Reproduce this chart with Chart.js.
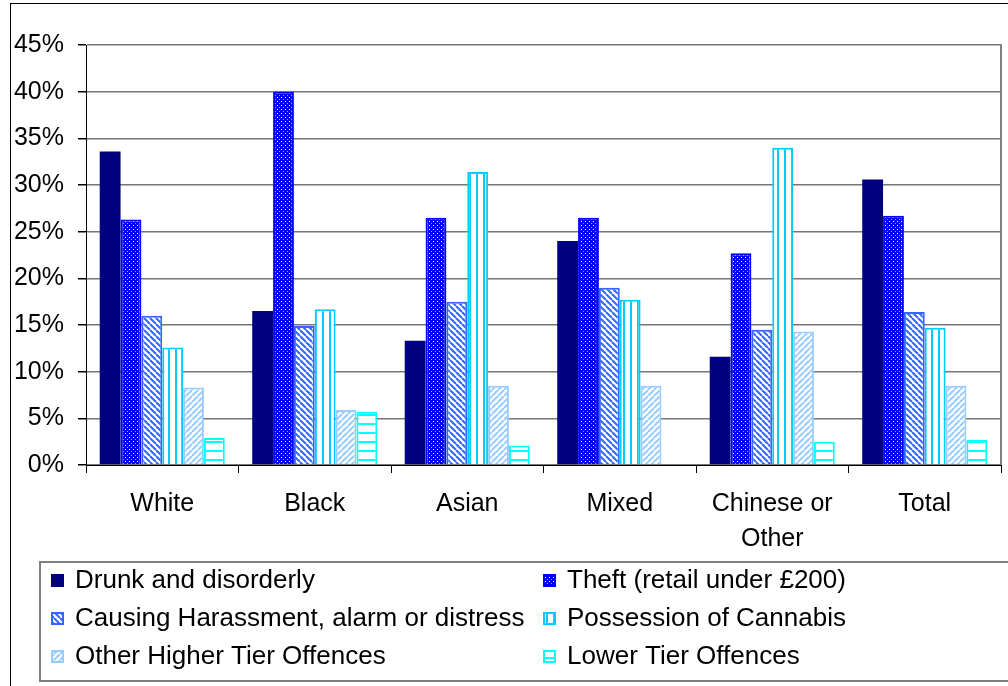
<!DOCTYPE html>
<html>
<head>
<meta charset="utf-8">
<script src="https://cdn.jsdelivr.net/npm/chart.js@4.4.0/dist/chart.umd.min.js"></script>
<style>
  body { margin: 0; background: #fff; }
  canvas { display: block; }
</style>
</head>
<body>
<canvas id="myChart" width="1008" height="686"></canvas>
<script>
// categories along the x axis
const categories = ['White', 'Black', 'Asian', 'Mixed', ['Chinese or', 'Other'], 'Total'];

// series values, percent
const drunk = [33.6, 16.5, 13.3, 24.0, 11.6, 30.6];
const theft = [26.3, 40.0, 26.5, 26.5, 22.7, 26.7];
const harassment = [16.0, 14.9, 17.5, 19.0, 14.5, 16.4];
const cannabis = [12.6, 16.7, 31.4, 17.7, 34.0, 14.7];
const otherHigher = [8.3, 5.9, 8.5, 8.5, 14.3, 8.5];
const lowerTier = [2.9, 5.7, 2.1, null, 2.5, 2.7];

const seriesNames = [
  'Drunk and disorderly',
  'Theft (retail under £200)',
  'Causing Harassment, alarm or distress',
  'Possession of Cannabis',
  'Other Higher Tier Offences',
  'Lower Tier Offences'
];

// y axis ticks
const yMin = 0, yMax = 45, yStep = 5;

const FONT = '"Liberation Sans", Arial, sans-serif';

// small tile patterns like the old excel fills
function makePattern(size, draw) {
  const c = document.createElement('canvas');
  c.width = size; c.height = size;
  const g = c.getContext('2d');
  draw(g, size);
  return g.createPattern(c, 'repeat');
}

const dotsBlue = makePattern(4, function(g, s) {
  g.fillStyle = '#0000FF'; g.fillRect(0, 0, s, s);
  g.fillStyle = '#ffffff';
  g.fillRect(1, 1, 1, 1);
  g.fillStyle = '#9999ff';
  g.fillRect(3, 3, 1, 1);
});

function diagonal(color, down) {
  return makePattern(6, function(g, s) {
    g.fillStyle = '#ffffff'; g.fillRect(0, 0, s, s);
    g.strokeStyle = color; g.lineWidth = 2;
    for (let k = -1; k <= 1; k++) {
      g.beginPath();
      if (down) { g.moveTo(k * s, 0); g.lineTo(k * s + s, s); }
      else { g.moveTo(k * s, s); g.lineTo(k * s + s, 0); }
      g.stroke();
    }
  });
}

const vertLines = makePattern(7, function(g, s) {
  g.fillStyle = '#ffffff'; g.fillRect(0, 0, s, s);
  g.fillStyle = '#00CCFF'; g.fillRect(0, 0, 2, s);
});

const horizLines = makePattern(9, function(g, s) {
  g.fillStyle = '#ffffff'; g.fillRect(0, 0, s, s);
  g.fillStyle = '#00FFFF'; g.fillRect(0, 0, s, 2);
});

const fills = ['#000080', dotsBlue, diagonal('#3366FF', true), vertLines, diagonal('#99CCFF', false), horizLines];
const borders = ['#000080', '#0000FF', '#3366FF', '#00CCFF', '#99CCFF', '#00FFFF'];
const values = [drunk, theft, harassment, cannabis, otherHigher, lowerTier];

// frame round the chart and the boxed legend at the bottom
const frameAndLegend = {
  id: 'frameAndLegend',
  afterDraw: function(chart) {
    const ctx = chart.ctx;
    ctx.save();
    ctx.strokeStyle = '#000';
    ctx.lineWidth = 1;
    ctx.strokeRect(10.5, 3.5, 1100, 800);

    // plot area right edge
    const a = chart.chartArea;
    ctx.strokeStyle = '#808080';
    ctx.lineWidth = 2;
    ctx.beginPath();
    ctx.moveTo(a.right, a.top - 1);
    ctx.lineTo(a.right, a.bottom);
    ctx.stroke();

    // legend box
    ctx.strokeStyle = '#808080';
    ctx.lineWidth = 2;
    ctx.strokeRect(40, 562, 1100, 119);

    ctx.font = '26px ' + FONT;
    ctx.textBaseline = 'middle';
    ctx.fillStyle = '#000';
    const colX = [51, 543];
    const rowY = [580, 618, 656];
    chart.data.datasets.forEach(function(ds, i) {
      const x = colX[i % 2], y = rowY[Math.floor(i / 2)];
      ctx.fillStyle = ds.backgroundColor;
      ctx.fillRect(x, y - 6, 13, 13);
      if (i > 0) {
        ctx.strokeStyle = ds.borderColor;
        ctx.lineWidth = 2;
        ctx.strokeRect(x + 1, y - 5, 11, 11);
      }
      ctx.fillStyle = '#000';
      ctx.fillText(ds.label, x + 24, y + 1);
    });
    ctx.restore();
  }
};

const ctx = document.getElementById('myChart').getContext('2d');
const myChart = new Chart(ctx, {
  type: 'bar',
  data: {
    labels: categories,
    datasets: values.map(function(v, i) {
      return {
        label: seriesNames[i],
        data: v,
        backgroundColor: fills[i],
        borderColor: borders[i],
        borderWidth: i === 0 ? 0 : 2,
        borderSkipped: 'bottom',
        categoryPercentage: 0.82,
        barPercentage: 1.0
      };
    })
  },
  options: {
    responsive: false,
    animation: false,
    devicePixelRatio: 1,
    layout: { padding: { top: 45, right: 7, bottom: 131, left: 0 } },
    plugins: {
      legend: { display: false },
      tooltip: { enabled: false }
    },
    scales: {
      x: {
        afterFit: function(scale) { scale.height = 90; },
        grid: { drawOnChartArea: false, drawTicks: true, tickLength: 8, color: '#000', offset: true },
        border: { color: '#000', width: 1 },
        ticks: {
          color: '#000',
          padding: 14,
          font: { family: FONT, size: 25, lineHeight: 1.4 },
          maxRotation: 0
        }
      },
      y: {
        min: yMin,
        max: yMax,
        afterFit: function(scale) { scale.width = 86; },
        grid: { color: '#777777', lineWidth: 1.5, tickLength: 8, tickColor: '#000' },
        border: { color: '#000', width: 1 },
        ticks: {
          stepSize: yStep,
          color: '#000',
          padding: 14,
          font: { family: FONT, size: 25 },
          callback: function(v) { return v + '%'; }
        }
      }
    }
  },
  plugins: [frameAndLegend]
});
</script>
</body>
</html>
